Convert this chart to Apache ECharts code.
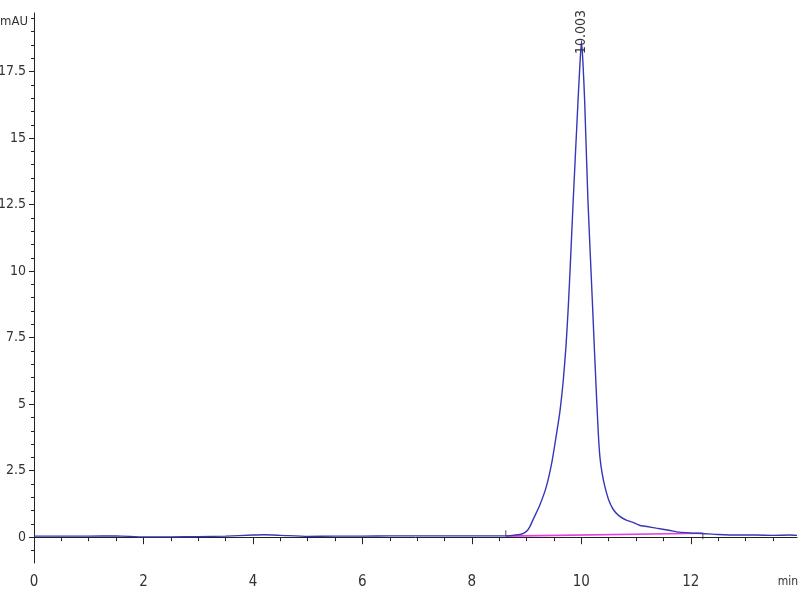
<!DOCTYPE html>
<html>
<head>
<meta charset="utf-8">
<script src="https://cdn.jsdelivr.net/npm/echarts@6/dist/echarts.min.js"></script>
<style>html,body{margin:0;padding:0;background:#fff}#c{width:800px;height:600px}</style>
</head>
<body>
<div id="c"></div>
<script>
// Retention time (min) and absorbance (mAU)
const times  = [0,0.5,1,1.5,2,2.5,3,3.5,4,4.2,4.5,5,5.5,6,6.5,7,7.5,8,8.5,8.7,8.88,8.95,9.0,9.06,9.12,9.24,9.36,9.46,9.55,9.61,9.67,9.72,9.76,9.8,9.85,9.94,9.975,10.003,10.03,10.06,10.12,10.2,10.24,10.28,10.31,10.34,10.38,10.43,10.5,10.58,10.68,10.82,10.95,11.06,11.2,11.37,11.6,11.79,12.0,12.21,12.5,12.89,13.2,13.5,13.8,13.94];
const signal = [0.04,0.04,0.04,0.05,0.01,0.01,0.02,0.04,0.08,0.09,0.07,0.03,0.04,0.04,0.05,0.05,0.05,0.05,0.05,0.06,0.1,0.15,0.22,0.4,0.67,1.2,1.9,2.8,3.93,4.75,5.9,7.2,8.6,10.3,12.6,16.43,17.8,18.65,17.8,16.43,12.68,8.92,7.0,5.17,3.9,3.0,2.4,1.9,1.4,1.05,0.82,0.64,0.55,0.45,0.4,0.34,0.26,0.19,0.16,0.14,0.1,0.08,0.08,0.07,0.08,0.07];
const baselineTimes = [8.62, 12.22];
const baselineValues = [0.04, 0.15];
const peakTime = 10.003;
const peakValue = 18.65;
const peakLabel = '10.003';
const xAxisName = 'min';
const yAxisName = 'mAU';
const xMajorTicks = [0,2,4,6,8,10,12];
const xMinorTicks = [0.5,1,1.5,2.5,3,3.5,4.5,5,5.5,6.5,7,7.5,8.5,9,9.5,10.5,11,11.5,12.5,13,13.5];
const yMajorTicks = [0,2.5,5,7.5,10,12.5,15,17.5];
const yMinorTicks = [-0.5,0.5,1,1.5,2,3,3.5,4,4.5,5.5,6,6.5,7,8,8.5,9,9.5,10.5,11,11.5,12,13,13.5,14,14.5,15.5,16,16.5,17,18,18.5,19,19.5];

const FONT = "'DejaVu Sans Condensed','Liberation Sans',sans-serif";
const AXC = '#222';
const TXT = '#333';

const chart = echarts.init(document.getElementById('c'), null, {renderer: 'canvas'});
const X0 = 0, X1 = 13.94, Y0 = -0.97, Y1 = 19.7;

chart.setOption({
  animation: false,
  backgroundColor: '#fff',
  grid: {left: 34, right: 3, top: 13, bottom: 37, containLabel: false, outerBoundsMode: 'none'},
  graphic: [
    {type: 'text', left: 0, top: 15, style: {text: yAxisName, fontFamily: FONT, fontSize: 13, fill: TXT}},
    {type: 'text', right: 2, top: 576, style: {text: xAxisName, fontFamily: FONT, fontSize: 12, fill: TXT}}
  ],
  xAxis: [
    {
      type: 'value', position: 'bottom', min: X0, max: X1,
      axisLine: {show: true, lineStyle: {color: AXC, width: 1}},
      axisTick: {show: true, length: 7, lineStyle: {color: AXC}, customValues: xMajorTicks},
      axisLabel: {show: true, margin: 12, fontFamily: FONT, fontSize: 15, color: TXT, customValues: xMajorTicks},
      splitLine: {show: false}
    },
    {
      type: 'value', position: 'bottom', min: X0, max: X1,
      axisLine: {show: false},
      axisTick: {show: true, length: 4, lineStyle: {color: AXC}, customValues: xMinorTicks},
      axisLabel: {show: false},
      splitLine: {show: false}
    }
  ],
  yAxis: [
    {
      type: 'value', position: 'left', min: Y0, max: Y1,
      axisLine: {show: true, lineStyle: {color: AXC, width: 1}},
      axisTick: {show: true, length: 5, lineStyle: {color: AXC}, customValues: yMajorTicks},
      axisLabel: {show: true, margin: 8, fontFamily: FONT, fontSize: 14, color: TXT, customValues: yMajorTicks},
      splitLine: {show: false}
    },
    {
      type: 'value', position: 'left', min: Y0, max: Y1,
      axisLine: {show: false},
      axisTick: {show: true, length: 3, lineStyle: {color: AXC}, customValues: yMinorTicks},
      axisLabel: {show: false},
      splitLine: {show: false}
    }
  ],
  series: [
    {
      type: 'line', name: 'baseline', xAxisIndex: 0, yAxisIndex: 0,
      data: baselineTimes.map((t, i) => [t, baselineValues[i]]),
      showSymbol: false, symbol: 'none',
      lineStyle: {color: '#e53fe0', width: 1.6},
      z: 2
    },
    {
      type: 'scatter', xAxisIndex: 0, yAxisIndex: 0,
      data: [
        {value: [baselineTimes[0], baselineValues[0]], symbolOffset: [0, -3]},
        {value: [baselineTimes[1], baselineValues[1]], symbolOffset: [0, 3]}
      ],
      symbol: 'rect', symbolSize: [1, 6],
      itemStyle: {color: '#222'},
      z: 3
    },
    {
      type: 'line', name: 'signal', xAxisIndex: 0, yAxisIndex: 0,
      data: times.map((t, i) => [t, signal[i]]),
      showSymbol: false, symbol: 'none', smooth: 0.2,
      lineStyle: {color: '#3636b8', width: 1.4},
      z: 4,
      markPoint: {
        symbol: 'circle', symbolSize: 0,
        data: [{coord: [peakTime, peakValue]}],
        label: {show: true, position: 'inside', rotate: 90, offset: [9, 0], formatter: peakLabel,
                fontFamily: FONT, fontSize: 14, color: TXT}
      }
    }
  ]
});
</script>
</body>
</html>
